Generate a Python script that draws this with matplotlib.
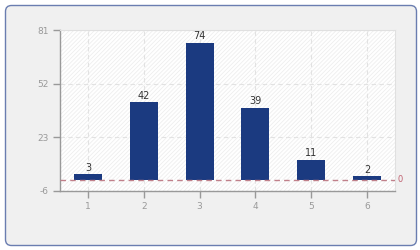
import matplotlib
matplotlib.use("Agg")
import matplotlib.pyplot as plt
from matplotlib.patches import FancyBboxPatch
from matplotlib.transforms import IdentityTransform

categories = [1, 2, 3, 4, 5, 6]
values = [3, 42, 74, 39, 11, 2]
yticks = [-6, 23, 52, 81]
ref_value = 0

plt.rcParams['font.family'] = ['DejaVu Sans']
plt.rcParams['hatch.linewidth'] = 0.6
plt.rcParams['axes.unicode_minus'] = False

fig = plt.figure(figsize=(4.2, 2.5), dpi=100)
fig.patch.set_facecolor('white')

panel = FancyBboxPatch((5.5, 4.5), 411, 240,
                       boxstyle="round,pad=0,rounding_size=6",
                       transform=IdentityTransform(), facecolor='#f0f0f0',
                       edgecolor='#6a7db0', linewidth=1.0, zorder=-10)
fig.patches.append(panel)

ax = fig.add_axes([60/420, 1 - 191/250, 335/420, 161/250])
ax.set_zorder(1)
ax.set_facecolor('white')
ax.patch.set_hatch('////////')
ax.patch.set_edgecolor('#eeeeee')
ax.patch.set_linewidth(0)

ax.bar(categories, values, width=0.5, color='#1b3a80', zorder=3)
for x, v in zip(categories, values):
    ax.text(x, v + 0.8, str(v), ha='center', va='bottom', fontsize=7, color='#333333', zorder=4)

ax.axhline(ref_value, color='#c0808a', linestyle=(0, (4, 3)), linewidth=1.0, zorder=4)
ax.text(6.55, ref_value, str(ref_value), color='#c06070', fontsize=6, va='center', ha='left', clip_on=False)

ax.set_xlim(0.5, 6.5)
ax.set_ylim(-6, 81)
ax.set_xticks(categories)
ax.set_xticklabels([str(c) for c in categories])
ax.set_yticks(yticks)

ax.grid(True, color='#e2e2e2', linestyle=(0, (4, 3)), linewidth=0.8, zorder=1)
ax.set_axisbelow(True)

for s in ['top', 'right']:
    ax.spines[s].set_color('#e0e0e0')
    ax.spines[s].set_linewidth(0.8)
for s in ['left', 'bottom']:
    ax.spines[s].set_color('#999999')
    ax.spines[s].set_linewidth(1.0)

ax.tick_params(axis='both', colors='#999999', labelcolor='#999999', labelsize=6.5, length=5, width=1.0, direction='out')
ax.tick_params(axis='x', pad=3)
ax.tick_params(axis='y', pad=3)

fig.savefig('out.png', dpi=100)
